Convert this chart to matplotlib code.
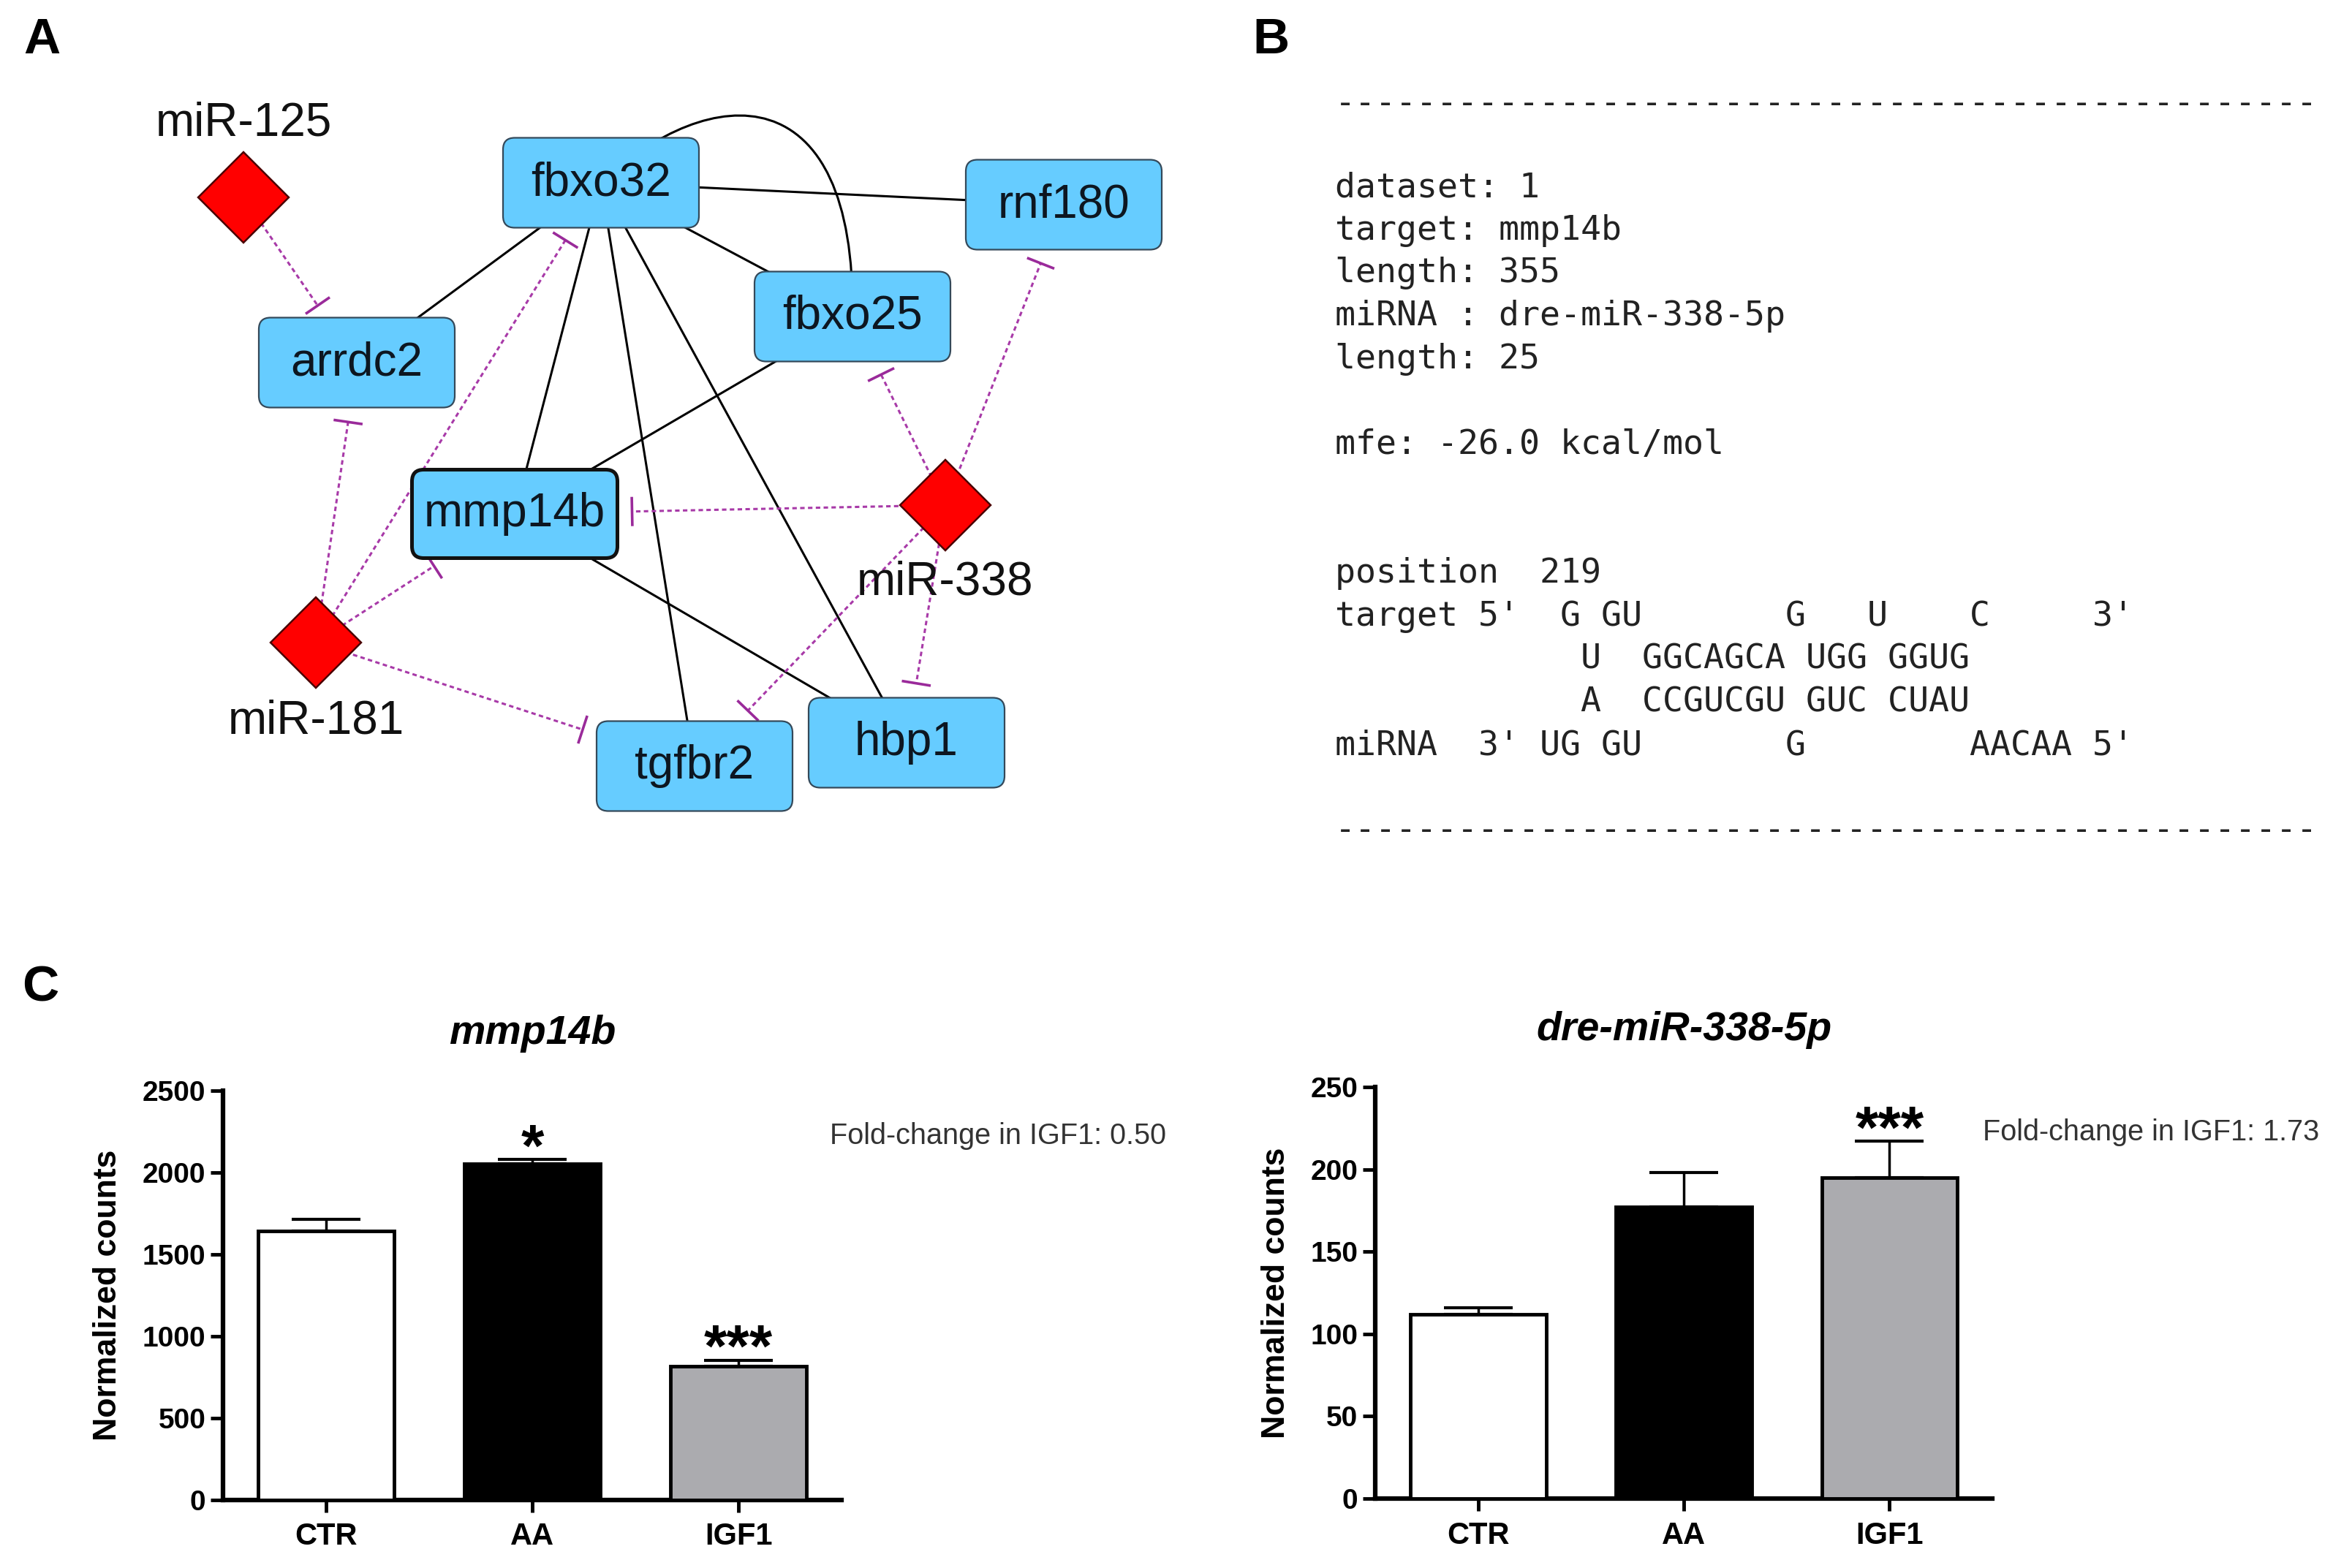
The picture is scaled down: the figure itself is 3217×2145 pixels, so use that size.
import matplotlib.pyplot as plt
import matplotlib.patches as mpatches
from matplotlib.path import Path
import numpy as np

# ---- panel C data ----
groups = ["CTR", "AA", "IGF1"]
mmp14b_counts = [1645, 2055, 818]
mmp14b_sem = [70, 26, 36]
mmp14b_stars = ["", "*", "***"]
mir338_counts = [112, 177, 195]
mir338_sem = [4, 21, 22]
mir338_stars = ["", "", "***"]
fold_mmp14b = 0.50
fold_mir338 = 1.73

# ---- panel A network ----
genes = ["fbxo32", "rnf180", "fbxo25", "arrdc2", "mmp14b", "tgfbr2", "hbp1"]
mirnas = ["miR-125", "miR-338", "miR-181"]
gene_links = [("fbxo32", "rnf180"), ("fbxo32", "arrdc2"), ("fbxo32", "fbxo25"),
              ("fbxo32", "mmp14b"), ("fbxo32", "tgfbr2"), ("fbxo32", "hbp1"),
              ("fbxo25", "mmp14b"), ("mmp14b", "hbp1")]
curved_links = [("fbxo32", "fbxo25")]
mirna_targets = [("miR-125", "arrdc2"), ("miR-181", "arrdc2"), ("miR-181", "fbxo32"),
                 ("miR-181", "mmp14b"), ("miR-181", "tgfbr2"), ("miR-338", "fbxo25"),
                 ("miR-338", "rnf180"), ("miR-338", "mmp14b"), ("miR-338", "tgfbr2"),
                 ("miR-338", "hbp1")]

# ---- panel B text ----
rna_lines = [
    "dataset: 1",
    "target: mmp14b",
    "length: 355",
    "miRNA : dre-miR-338-5p",
    "length: 25",
    "",
    "mfe: -26.0 kcal/mol",
    "",
    "",
    "position  219",
    "target 5'  G GU       G   U    C     3'",
    "            U  GGCAGCA UGG GGUG",
    "            A  CCGUCGU GUC CUAU",
    "miRNA  3' UG GU       G        AACAA 5'",
]

# layout of the network, in figure pixels (y down)
layout = {"fbxo32": (822, 250), "rnf180": (1455, 280), "fbxo25": (1166, 433),
          "arrdc2": (488, 496), "mmp14b": (704, 703), "tgfbr2": (950, 1048),
          "hbp1": (1240, 1016), "miR-125": (333, 270), "miR-338": (1293, 691),
          "miR-181": (432, 879)}
mirna_label_pos = {"miR-125": (333, 168), "miR-338": (1293, 797), "miR-181": (432, 987)}

W, H = 3217, 2145
fig = plt.figure(figsize=(W / 100, H / 100), dpi=100)
fig.patch.set_facecolor("white")

net = fig.add_axes([0, 0, 1, 1])
net.set_xlim(0, W)
net.set_ylim(H, 0)
net.axis("off")

box_w, box_h = 268, 123
purple = "#A83AA8"


def box_size(name):
    if name == "mmp14b":
        return 281, 121
    return box_w, box_h


# solid gene-gene edges
for a, b in gene_links:
    (x1, y1), (x2, y2) = layout[a], layout[b]
    net.plot([x1, x2], [y1, y2], color="black", lw=2.2, zorder=1)

for a, b in curved_links:
    (x1, y1), (x2, y2) = layout[a], layout[b]
    verts = [(x1, y1), (x1 + 150, y1 - 140), (x2 + 5, y1 - 150), (x2, y2)]
    path = Path(verts, [Path.MOVETO, Path.CURVE4, Path.CURVE4, Path.CURVE4])
    net.add_patch(mpatches.PathPatch(path, fill=False, color="black", lw=2.2, zorder=1))

# miRNA inhibition edges (dashed, T-bar end)
for src, tgt in mirna_targets:
    sx, sy = layout[src]
    tx, ty = layout[tgt]
    dx, dy = tx - sx, ty - sy
    hw, hh = box_size(tgt)
    hw, hh = hw / 2, hh / 2
    s = min(hw / abs(dx) if dx != 0 else 1e9, hh / abs(dy) if dy != 0 else 1e9)
    bx, by = tx - s * dx, ty - s * dy
    L = np.hypot(dx, dy)
    ux, uy = dx / L, dy / L
    ex, ey = bx - 20 * ux, by - 20 * uy
    net.plot([sx, ex], [sy, ey], color=purple, lw=2.2, dashes=(2, 1.5), zorder=1)
    px, py = -uy, ux
    net.plot([ex - 20 * px, ex + 20 * px], [ey - 20 * py, ey + 20 * py],
             color="#9A2A9A", lw=2.6, zorder=1, solid_capstyle="butt")

# gene boxes
for g in genes:
    x, y = layout[g]
    w, h = box_size(g)
    lw = 3.6 if g == "mmp14b" else 1.6
    ec = "#111111" if g == "mmp14b" else "#34495a"
    net.add_patch(mpatches.FancyBboxPatch((x - w / 2, y - h / 2), w, h,
                                          boxstyle="round,pad=0,rounding_size=16",
                                          facecolor="#66CCFF", edgecolor=ec, lw=lw, zorder=3))
    net.text(x, y, g, fontsize=46, family="Liberation Sans", ha="center", va="center",
             color="#0d1620", zorder=4)

# miRNA diamonds
for m in mirnas:
    x, y = layout[m]
    r = 62
    net.add_patch(mpatches.Polygon([(x, y - r), (x + r, y), (x, y + r), (x - r, y)],
                                   closed=True, facecolor="#FF0000", edgecolor="#4a0000",
                                   lw=1.8, zorder=3))
    lx, ly = mirna_label_pos[m]
    net.text(lx, ly, m, fontsize=46, family="Liberation Sans", ha="center", va="center",
             color="#111111", zorder=4)

# panel letters
for letter, (x, y) in {"A": (57, 55), "B": (1738, 55), "C": (55, 1352)}.items():
    net.text(x, y, letter, fontsize=50, fontweight="bold", family="Liberation Sans",
             ha="center", va="center")

# panel B text block
mono = "DejaVu Sans Mono"
net.text(1826, 142, "-" * 48, family=mono, fontsize=33.5, va="center", ha="left", color="#222222")
net.text(1826, 1137, "-" * 48, family=mono, fontsize=33.5, va="center", ha="left", color="#222222")
for i, line in enumerate(rna_lines):
    net.text(1826, 256.5 + i * 58.7, line, family=mono, fontsize=33.5,
             va="center", ha="left", color="#222222")

# panel C bar charts
bar_colors = ["white", "black", "#ABABAF"]


def bar_panel(rect, counts, sem, stars, ymax, step, title, fold, fold_x, ylab_x):
    ax = fig.add_axes(rect)
    x = np.arange(len(groups))
    ax.bar(x, counts, width=0.66, color=bar_colors, edgecolor="black", linewidth=3.5, zorder=3)
    ax.errorbar(x, counts, yerr=[np.zeros(len(x)), sem], fmt="none", ecolor="black",
                elinewidth=2.5, capsize=34, capthick=3, zorder=2)
    for xi, c, e, s in zip(x, counts, sem, stars):
        if s:
            ax.annotate(s, xy=(xi, c + e), xytext=(0, -6), textcoords="offset points",
                        ha="center", va="baseline", fontsize=58, fontweight="bold",
                        family="Liberation Sans", annotation_clip=False)
    ax.set_xlim(-0.5, 2.5)
    ax.set_ylim(0, ymax)
    ax.set_yticks(np.arange(0, ymax + 1, step))
    ax.set_xticks(x)
    ax.set_xticklabels(groups)
    for sp in ["top", "right"]:
        ax.spines[sp].set_visible(False)
    for sp in ["left", "bottom"]:
        ax.spines[sp].set_linewidth(4.5)
    ax.tick_params(width=3.5, length=12, direction="out", labelsize=28, pad=5)
    ax.tick_params(axis="x", pad=10, labelsize=30)
    for lab in ax.get_xticklabels() + ax.get_yticklabels():
        lab.set_fontweight("bold")
        lab.set_family("Liberation Sans")
    ax.set_ylabel("Normalized counts", fontsize=32, fontweight="bold",
                  family="Liberation Sans", va="center")
    ax.yaxis.set_label_coords(ylab_x, 0.5)
    ax.set_title(title, fontsize=40, fontweight="bold", fontstyle="italic",
                 family="Liberation Sans", pad=46)
    ax.text(fold_x, 0.89, f"Fold-change in IGF1: {fold:.2f}", transform=ax.transAxes,
            fontsize=28.5, family="Liberation Sans", color="#333333", va="center", ha="left")
    return ax


bar_panel([0.0948, 0.0434, 0.263, 0.261], mmp14b_counts, mmp14b_sem, mmp14b_stars,
          2500, 500, "mmp14b", fold_mmp14b, 0.981, -0.186)
bar_panel([0.5847, 0.0443, 0.2624, 0.2625], mir338_counts, mir338_sem, mir338_stars,
          250, 50, "dre-miR-338-5p", fold_mir338, 0.985, -0.16)

fig.savefig("out.png", dpi=100, facecolor="white")
